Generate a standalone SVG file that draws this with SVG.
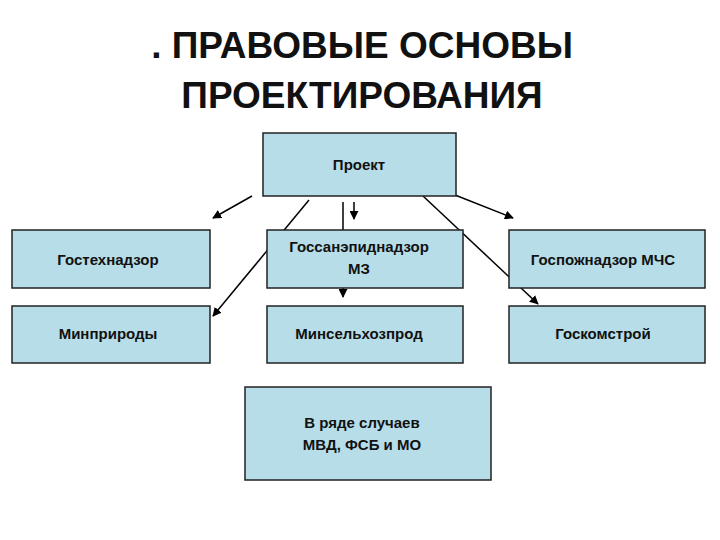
<svg xmlns="http://www.w3.org/2000/svg" width="720" height="540" viewBox="0 0 720 540">
<style>
.b{fill:#b7dde8;stroke:#222;stroke-width:1.5}
.t{font-family:"Liberation Sans",Arial,sans-serif;font-size:15px;font-weight:bold;fill:#111;text-anchor:middle}
.h{font-family:"Liberation Sans",Arial,sans-serif;font-size:37px;font-weight:bold;fill:#111;text-anchor:middle}
.c{stroke:#000;stroke-width:1.5;fill:none}
</style>
<defs><marker id="a" viewBox="0 0 10 10" refX="9" refY="5" markerWidth="6" markerHeight="6" orient="auto"><path d="M0,0L10,5L0,10z" fill="#000"/></marker></defs>
<rect width="720" height="540" fill="#fff"/>
<text class="h" x="362" y="58">. ПРАВОВЫЕ ОСНОВЫ</text>
<text class="h" x="362" y="108">ПРОЕКТИРОВАНИЯ</text>
<g id="connectors">
<line class="c" x1="252" y1="196" x2="213" y2="218" marker-end="url(#a)"/>
<line class="c" x1="455" y1="195" x2="513" y2="218" marker-end="url(#a)"/>
<line class="c" x1="309" y1="200" x2="213" y2="316" marker-end="url(#a)"/>
<line class="c" x1="343" y1="202" x2="343" y2="297" marker-end="url(#a)"/>
<line class="c" x1="354" y1="202" x2="354" y2="219" marker-end="url(#a)"/>
<line class="c" x1="423" y1="196" x2="538" y2="304" marker-end="url(#a)"/>
</g>
<g id="proekt"><rect class="b" x="263" y="133" width="193" height="63"/><text class="t" x="359" y="170">Проект</text></g>
<g id="gostekh"><rect class="b" x="12" y="230" width="198" height="58"/><text class="t" x="108" y="265">Гостехнадзор</text></g>
<g id="gossan"><rect class="b" x="267" y="230" width="196" height="58"/><text class="t" x="359" y="252">Госсанэпиднадзор</text><text class="t" x="359" y="274">МЗ</text></g>
<g id="gospozh"><rect class="b" x="509" y="230" width="196" height="58"/><text class="t" x="603" y="265">Госпожнадзор МЧС</text></g>
<g id="minprir"><rect class="b" x="12" y="306" width="198" height="57"/><text class="t" x="108" y="339">Минприроды</text></g>
<g id="minsel"><rect class="b" x="267" y="306" width="196" height="57"/><text class="t" x="359" y="339">Минсельхозпрод</text></g>
<g id="goskom"><rect class="b" x="509" y="306" width="196" height="57"/><text class="t" x="603" y="339">Госкомстрой</text></g>
<g id="mvd"><rect class="b" x="245" y="387" width="246" height="93"/><text class="t" x="362" y="428">В ряде случаев</text><text class="t" x="362" y="450">МВД, ФСБ и МО</text></g>
</svg>
